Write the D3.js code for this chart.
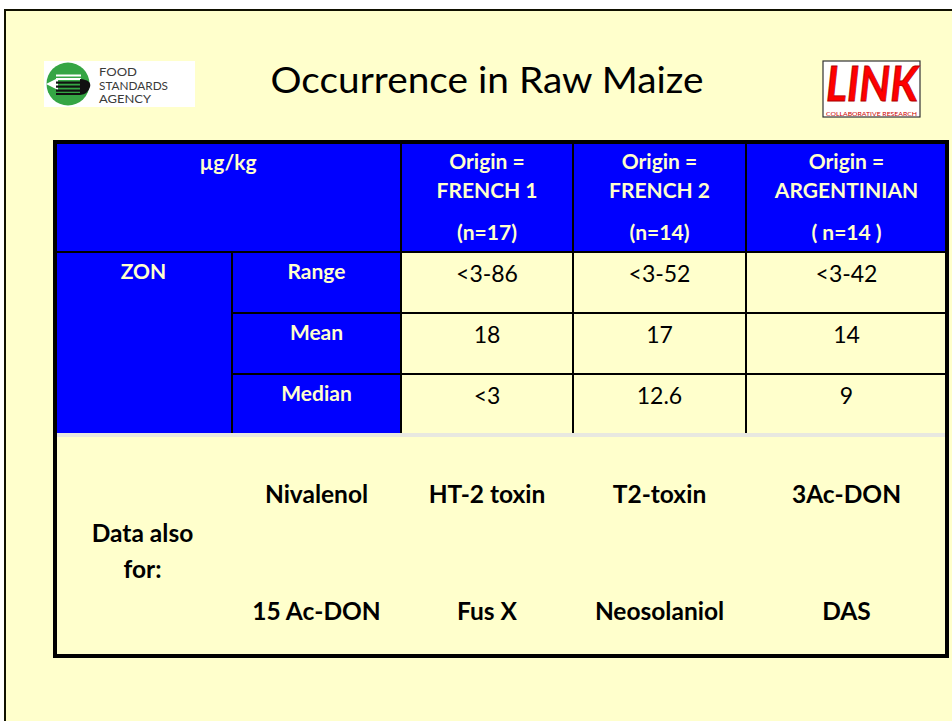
<!DOCTYPE html>
<html>
<head>
<meta charset="utf-8">
<script src="https://cdn.jsdelivr.net/npm/d3@7"></script>
<style>
  html, body { margin: 0; padding: 0; background: #ffffff; }
  svg { display: block; }
  text { font-family: Lato, "Open Sans", sans-serif; }
</style>
</head>
<body>
<div id="slide"></div>
<script>
  'use strict';

  // ---- data ----
  var title = "Occurrence in Raw Maize";
  var unitLabel = "µg/kg";
  var analyte = "ZON";
  var origins = ["FRENCH 1", "FRENCH 2", "ARGENTINIAN"];
  var sampleCounts = ["(n=17)", "(n=14)", "( n=14 )"];
  var stats = ["Range", "Mean", "Median"];
  var rangeValues = ["<3-86", "<3-52", "<3-42"];
  var meanValues = [18, 17, 14];
  var medianValues = ["<3", 12.6, 9];
  var alsoLabel = ["Data also", "for:"];
  var otherToxinsTop = ["Nivalenol", "HT-2 toxin", "T2-toxin", "3Ac-DON"];
  var otherToxinsBottom = ["15 Ac-DON", "Fus X", "Neosolaniol", "DAS"];

  var w = 952;
  var h = 721;
  var blue = "#0000ff";
  var cream = "#ffffcc";

  var colKeys = ["analyte", "stat", "o0", "o1", "o2"];
  var colLeft = d3.scaleOrdinal().domain(colKeys).range([55, 232, 401, 573, 746]);
  var colRight = d3.scaleOrdinal().domain(colKeys).range([232, 401, 573, 746, 947]);
  function colMid(k) { return (colLeft(k) + colRight(k)) / 2; }

  var tableTop = 142;
  var headerBottom = 252;
  var tableBottom = 656;
  var rowY = d3.scaleBand().domain(stats).range([headerBottom, 435]).paddingInner(0);
  var bottomY = d3.scalePoint().domain(["top", "bottom"]).range([503, 620]);

  var svg = d3.select("#slide").append("svg")
    .attr("width", w)
    .attr("height", h);

  // slide background
  svg.append("rect")
    .attr("x", 5).attr("y", 10)
    .attr("width", w).attr("height", h)
    .attr("fill", cream)
    .attr("stroke", "#111100")
    .attr("stroke-width", 2);

  // ---- FSA logo ----
  var fsa = svg.append("g").attr("class", "fsaLogo");
  fsa.append("rect").attr("x", 44).attr("y", 61).attr("width", 151).attr("height", 46).attr("fill", "#ffffff");
  fsa.append("circle").attr("cx", 68).attr("cy", 84).attr("r", 21.5).attr("fill", "#35a544");
  fsa.append("path").attr("d", "M46,84 L58,78 L58,90 Z").attr("fill", "#ffffff");
  [74.5, 78].forEach(function (y) {
    fsa.append("rect").attr("x", 56).attr("y", y).attr("width", 25).attr("height", 2).attr("fill", "#ffffff");
  });
  [81.5, 85.5, 89.5].forEach(function (y) {
    fsa.append("rect").attr("x", 56).attr("y", y).attr("width", 26).attr("height", 2.2).attr("fill", "#111111");
  });
  fsa.append("path").attr("d", "M80,79 Q92,80 90,87 Q88,94 80,95 Z").attr("fill", "#111111");
  fsa.append("rect").attr("x", 56).attr("y", 93).attr("width", 24).attr("height", 2).attr("fill", "#111111");
  var fsaText = ["FOOD", "STANDARDS", "AGENCY"];
  var fsaWidth = [38, 69, 52];
  fsa.selectAll("text.fsa")
    .data(fsaText)
    .enter()
    .append("text")
    .attr("class", "fsa")
    .attr("x", 99)
    .attr("y", function (d, i) { return 76 + i * 13.5; })
    .attr("font-family", "'Liberation Sans', Arial, sans-serif")
    .attr("font-size", 11.6)
    .attr("fill", "#3a3a3a")
    .attr("textLength", function (d, i) { return fsaWidth[i]; })
    .attr("lengthAdjust", "spacingAndGlyphs")
    .text(function (d) { return d; });

  // ---- LINK logo ----
  var link = svg.append("g").attr("class", "linkLogo");
  link.append("rect").attr("x", 823).attr("y", 61).attr("width", 97).attr("height", 56)
    .attr("fill", "#ffffff").attr("stroke", "#333333").attr("stroke-width", 1.2);
  link.append("text")
    .attr("x", 826).attr("y", 100.5)
    .attr("font-family", "'Liberation Sans', Arial, sans-serif")
    .attr("font-weight", "bold").attr("font-style", "italic")
    .attr("font-size", 48)
    .attr("fill", "#ff0000").attr("stroke", "#b00000").attr("stroke-width", 0.8)
    .attr("textLength", 92).attr("lengthAdjust", "spacingAndGlyphs")
    .text("LINK");
  link.append("text")
    .attr("x", 826).attr("y", 115.5)
    .attr("font-family", "'Liberation Serif', serif")
    .attr("font-size", 5)
    .attr("fill", "#cc0000")
    .attr("textLength", 91).attr("lengthAdjust", "spacingAndGlyphs")
    .text("COLLABORATIVE RESEARCH");

  // ---- title ----
  svg.append("text")
    .attr("x", 487).attr("y", 93)
    .attr("text-anchor", "middle")
    .attr("font-size", 37)
    .attr("fill", "#000000")
    .attr("textLength", 433).attr("lengthAdjust", "spacingAndGlyphs")
    .text(title);

  // ---- table fills ----
  var table = svg.append("g").attr("class", "table");
  table.append("rect")
    .attr("x", colLeft("analyte")).attr("y", tableTop)
    .attr("width", colRight("o2") - colLeft("analyte"))
    .attr("height", headerBottom - tableTop)
    .attr("fill", blue);
  table.append("rect")
    .attr("x", colLeft("analyte")).attr("y", headerBottom)
    .attr("width", colRight("stat") - colLeft("analyte"))
    .attr("height", rowY.range()[1] - headerBottom)
    .attr("fill", blue);

  // ---- grid lines ----
  var lineColor = "#000000";
  ["o0", "o1", "o2"].forEach(function (k) {
    table.append("line")
      .attr("x1", colLeft(k)).attr("x2", colLeft(k))
      .attr("y1", tableTop).attr("y2", rowY.range()[1] - 2)
      .attr("stroke", lineColor).attr("stroke-width", 2);
  });
  table.append("line")
    .attr("x1", colLeft("stat")).attr("x2", colLeft("stat"))
    .attr("y1", headerBottom).attr("y2", rowY.range()[1] - 2)
    .attr("stroke", lineColor).attr("stroke-width", 2);
  table.append("line")
    .attr("x1", colLeft("analyte")).attr("x2", colRight("o2"))
    .attr("y1", headerBottom).attr("y2", headerBottom)
    .attr("stroke", lineColor).attr("stroke-width", 2);
  stats.slice(1).forEach(function (s) {
    table.append("line")
      .attr("x1", colLeft("stat")).attr("x2", colRight("o2"))
      .attr("y1", rowY(s)).attr("y2", rowY(s))
      .attr("stroke", lineColor).attr("stroke-width", 2);
  });
  // light separator under the stats block
  table.append("line")
    .attr("x1", colLeft("analyte")).attr("x2", colRight("o2"))
    .attr("y1", rowY.range()[1]).attr("y2", rowY.range()[1])
    .attr("stroke", "#e8e8e0").attr("stroke-width", 4);

  // outer border
  table.append("rect")
    .attr("x", colLeft("analyte")).attr("y", tableTop)
    .attr("width", colRight("o2") - colLeft("analyte"))
    .attr("height", tableBottom - tableTop)
    .attr("fill", "none")
    .attr("stroke", "#000000").attr("stroke-width", 4);

  // ---- header text ----
  var headFont = 21;
  var bodyFont = 23;
  var bottomFont = 24.5;

  table.append("text")
    .attr("x", (colLeft("analyte") + colRight("stat")) / 2).attr("y", 170)
    .attr("text-anchor", "middle")
    .attr("font-size", headFont).attr("font-weight", "bold")
    .attr("fill", cream)
    .text(unitLabel);

  var originKeys = ["o0", "o1", "o2"];
  var head = table.selectAll("g.originHead")
    .data(origins)
    .enter()
    .append("g")
    .attr("class", "originHead");
  head.append("text")
    .attr("x", function (d, i) { return colMid(originKeys[i]); })
    .attr("y", 169)
    .attr("text-anchor", "middle")
    .attr("font-size", headFont).attr("font-weight", "bold")
    .attr("fill", cream)
    .text("Origin =");
  head.append("text")
    .attr("x", function (d, i) { return colMid(originKeys[i]); })
    .attr("y", 198)
    .attr("text-anchor", "middle")
    .attr("font-size", headFont).attr("font-weight", "bold")
    .attr("fill", cream)
    .text(function (d) { return d; });
  head.append("text")
    .attr("x", function (d, i) { return colMid(originKeys[i]); })
    .attr("y", 240)
    .attr("text-anchor", "middle")
    .attr("font-size", headFont).attr("font-weight", "bold")
    .attr("fill", cream)
    .text(function (d, i) { return sampleCounts[i]; });

  // ---- stats rows ----
  table.append("text")
    .attr("x", colMid("analyte")).attr("y", headerBottom + 27)
    .attr("text-anchor", "middle")
    .attr("font-size", headFont).attr("font-weight", "bold")
    .attr("fill", cream)
    .text(analyte);

  table.selectAll("text.statLabel")
    .data(stats)
    .enter()
    .append("text")
    .attr("class", "statLabel")
    .attr("x", colMid("stat"))
    .attr("y", function (d) { return rowY(d) + 27; })
    .attr("text-anchor", "middle")
    .attr("font-size", headFont).attr("font-weight", "bold")
    .attr("fill", cream)
    .text(function (d) { return d; });

  var valueRows = [rangeValues, meanValues, medianValues];
  var cells = [];
  stats.forEach(function (s, r) {
    valueRows[r].forEach(function (v, c) {
      cells.push({ stat: s, col: originKeys[c], value: v });
    });
  });
  table.selectAll("text.value")
    .data(cells)
    .enter()
    .append("text")
    .attr("class", "value")
    .attr("x", function (d) { return colMid(d.col); })
    .attr("y", function (d) { return rowY(d.stat) + 30; })
    .attr("text-anchor", "middle")
    .attr("font-size", bodyFont)
    .attr("fill", "#000000")
    .text(function (d) { return d.value; });

  // ---- other toxins ----
  var toxinKeys = ["stat", "o0", "o1", "o2"];
  table.selectAll("text.toxinTop")
    .data(otherToxinsTop)
    .enter()
    .append("text")
    .attr("class", "toxinTop")
    .attr("x", function (d, i) { return colMid(toxinKeys[i]); })
    .attr("y", bottomY("top"))
    .attr("text-anchor", "middle")
    .attr("font-size", bottomFont).attr("font-weight", "bold")
    .text(function (d) { return d; });
  table.selectAll("text.toxinBottom")
    .data(otherToxinsBottom)
    .enter()
    .append("text")
    .attr("class", "toxinBottom")
    .attr("x", function (d, i) { return colMid(toxinKeys[i]); })
    .attr("y", bottomY("bottom"))
    .attr("text-anchor", "middle")
    .attr("font-size", bottomFont).attr("font-weight", "bold")
    .text(function (d) { return d; });
  table.selectAll("text.also")
    .data(alsoLabel)
    .enter()
    .append("text")
    .attr("class", "also")
    .attr("x", colMid("analyte") - 1)
    .attr("y", function (d, i) { return 542 + i * 36; })
    .attr("text-anchor", "middle")
    .attr("font-size", bottomFont).attr("font-weight", "bold")
    .text(function (d) { return d; });
</script>
</body>
</html>
